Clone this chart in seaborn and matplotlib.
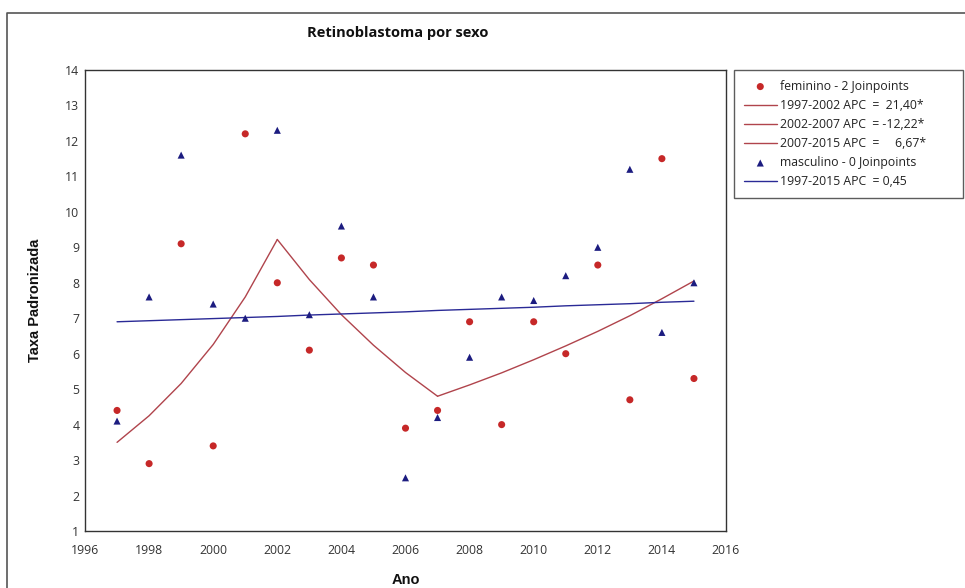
import numpy as np
import pandas as pd
import matplotlib
matplotlib.use("Agg")
import matplotlib.pyplot as plt
from matplotlib.lines import Line2D
import seaborn as sns

# dados
anos = [1997, 1998, 1999, 2000, 2001, 2002, 2003, 2004, 2005, 2006,
        2007, 2008, 2009, 2010, 2011, 2012, 2013, 2014, 2015]
feminino = [4.4, 2.9, 9.1, 3.4, 12.2, 8.0, 6.1, 8.7, 8.5, 3.9,
            4.4, 6.9, 4.0, 6.9, 6.0, 8.5, 4.7, 11.5, 5.3]
masculino = [4.1, 7.6, 11.6, 7.4, 7.0, 12.3, 7.1, 9.6, 7.6, 2.5,
             4.2, 5.9, 7.6, 7.5, 8.2, 9.0, 11.2, 6.6, 8.0]
# modelo joinpoint (valores ajustados)
feminino_ajuste = [3.50, 4.25, 5.16, 6.26, 7.60, 9.22, 8.09, 7.10, 6.24, 5.47,
                   4.80, 5.12, 5.46, 5.83, 6.22, 6.63, 7.07, 7.55, 8.05]
masculino_ajuste = [6.90, 6.93, 6.96, 6.99, 7.02, 7.05, 7.09, 7.12, 7.15, 7.18,
                    7.22, 7.25, 7.28, 7.31, 7.35, 7.38, 7.41, 7.45, 7.48]
segmentos = [(1997, 2002, "1997-2002 APC  =  21,40*"),
             (2002, 2007, "2002-2007 APC  = -12,22*"),
             (2007, 2015, "2007-2015 APC  =     6,67*")]
rotulo_fem = "feminino - 2 Joinpoints"
rotulo_masc = "masculino - 0 Joinpoints"
rotulo_masc_ajuste = "1997-2015 APC  = 0,45"

df = pd.DataFrame({"Ano": anos, "feminino": feminino, "masculino": masculino,
                   "fem_aj": feminino_ajuste, "masc_aj": masculino_ajuste})

sns.set_theme(style="white")
plt.rcParams["font.family"] = ["Open Sans", "DejaVu Sans"]

vermelho = "#c62828"
vermelho_linha = "#b0444c"
azul = "#1c1c80"
azul_linha = "#2a2a96"

W, H = 965, 588
fig = plt.figure(figsize=(W / 100, H / 100), dpi=100)
ax = fig.add_axes([85 / W, 1 - 531 / H, (726 - 85) / W, (531 - 70) / H])

# pontos observados
sns.scatterplot(data=df, x="Ano", y="feminino", ax=ax, color=vermelho, marker="o",
                s=26, edgecolor="none", label=rotulo_fem, zorder=3)
# segmentos do ajuste feminino
for ini, fim, rot in segmentos:
    seg = df[(df["Ano"] >= ini) & (df["Ano"] <= fim)]
    sns.lineplot(data=seg, x="Ano", y="fem_aj", ax=ax, color=vermelho_linha,
                 linewidth=1.0, label=rot, zorder=2)
sns.scatterplot(data=df, x="Ano", y="masculino", ax=ax, color=azul, marker="^",
                s=26, edgecolor="none", label=rotulo_masc, zorder=3)
sns.lineplot(data=df, x="Ano", y="masc_aj", ax=ax, color=azul_linha,
             linewidth=1.0, label=rotulo_masc_ajuste, zorder=2)

ax.set_xlim(1996, 2016)
ax.set_ylim(1, 14)
ax.set_xticks(np.arange(1996, 2017, 2))
ax.set_yticks(np.arange(1, 15, 1))
ax.tick_params(axis="both", length=0, labelsize=8.8, colors="#333333")
ax.tick_params(axis="x", pad=9)
ax.tick_params(axis="y", pad=4)
for s in ax.spines.values():
    s.set_color("#333333")
    s.set_linewidth(1.0)

ax.set_xlabel("Ano", fontsize=10.5, fontweight="bold", family="Liberation Sans",
              labelpad=12, color="#111111")
ax.set_ylabel("Taxa Padronizada", fontsize=10.5, fontweight="bold",
              family="Liberation Sans", labelpad=17, color="#111111")
fig.text(398 / W, 1 - 33 / H, "Retinoblastoma por sexo", ha="center", va="center",
         fontsize=10.5, fontweight="bold", color="#111111")

# legenda
handles, labels = ax.get_legend_handles_labels()
leg = ax.legend(handles, labels, loc="upper left",
                bbox_to_anchor=(734 / W, 1 - 198 / H, (963 - 734) / W, (198 - 70) / H),
                bbox_transform=fig.transFigure, mode="expand", borderaxespad=0,
                fontsize=8.8, frameon=True, fancybox=False, handlelength=2.7,
                handletextpad=0.3, labelspacing=0.5, borderpad=0.8)
leg.get_frame().set_edgecolor("#333333")
leg.get_frame().set_linewidth(1.0)
for t in leg.get_texts():
    t.set_color("#222222")

# moldura externa
fig.add_artist(Line2D([7 / W, 7 / W, 1], [0, 1 - 13 / H, 1 - 13 / H],
                      transform=fig.transFigure, color="#555555", linewidth=1.2))

fig.savefig("out.png", dpi=100)
